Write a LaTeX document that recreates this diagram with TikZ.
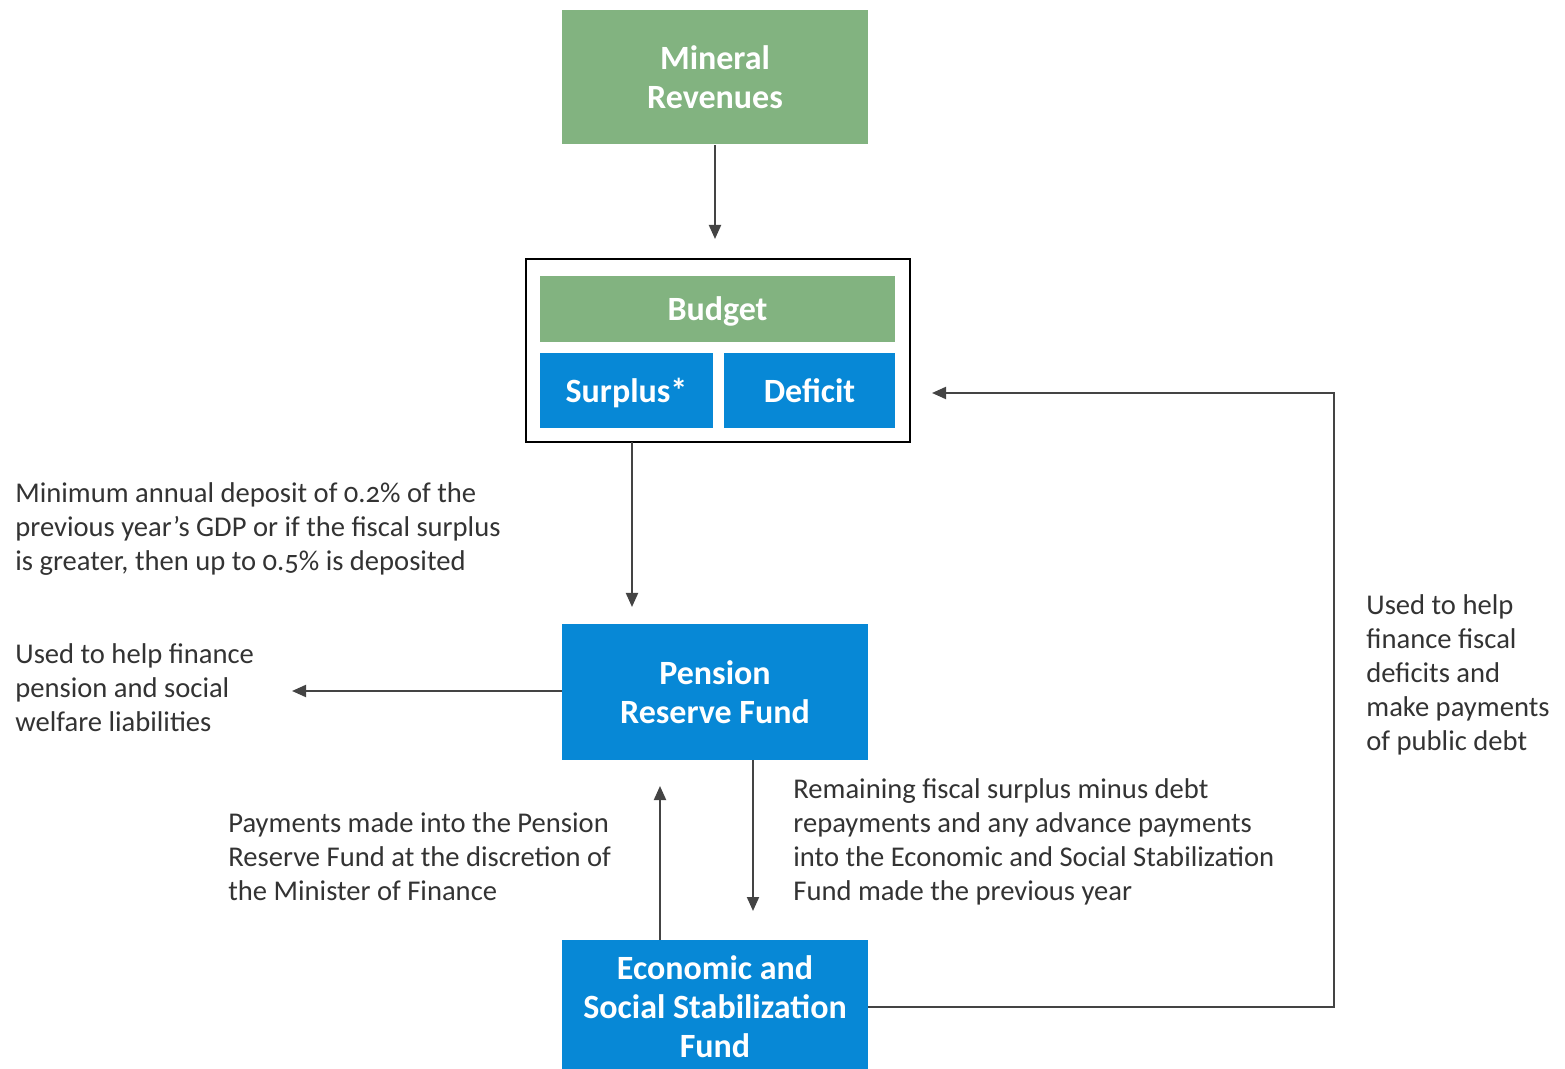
\documentclass[tikz,border=0pt]{standalone}
\usepackage{fontspec}
\setmainfont{Carlito}[Numbers=OldStyle]
\usetikzlibrary{arrows.meta}
\definecolor{grn}{HTML}{82B380}
\definecolor{blu}{HTML}{0788D6}
\definecolor{txt}{HTML}{333333}
\definecolor{arr}{HTML}{444444}
\begin{document}
\begin{tikzpicture}[x=0.5pt,y=-0.5pt,
  boxtext/.style={text=white, font=\bfseries\fontsize{17}{19.5}\selectfont, align=center, inner sep=0pt, draw=none},
  gbox/.style={boxtext, fill=grn},
  bbox/.style={boxtext, fill=blu},
  note/.style={text=txt, font=\fontsize{14.3}{17}\selectfont, align=left, anchor=north west, inner sep=0pt},
  flow/.style={draw=arr, line width=1pt, -{Triangle[length=7pt,width=6pt]}}]
\useasboundingbox (0,0) rectangle (1565,1069);
% boxes
\node[gbox, minimum width=153pt, minimum height=67pt] (mr) at (715,77.5) {Mineral\\Revenues};
\node[draw=black, line width=1.2pt, fill=white, minimum width=192pt, minimum height=91.5pt, inner sep=0pt] (bud) at (718,350.5) {};
\node[gbox, minimum width=177.5pt, minimum height=33pt, text depth=0pt] (budget) at (717.5,309) {Budget};
\node[bbox, minimum width=86.5pt, minimum height=37.5pt, text depth=0pt] (surplus) at (626.5,390.5) {Surplus*};
\node[bbox, minimum width=85.5pt, minimum height=37.5pt, text depth=0pt] (deficit) at (809.5,390.5) {Deficit};
\node[bbox, minimum width=153pt, minimum height=68pt] (prf) at (715,692) {Pension\\Reserve Fund};
\node[bbox, minimum width=153pt, minimum height=67pt] (essf) at (715,1007) {Economic and\\Social Stabilization\\Fund};
% coordinates
\coordinate (mrend) at (715,239);
\coordinate (b1) at (632,442);
\coordinate (b1end) at (632,607);
\coordinate (leftend) at (292,691);
\coordinate (p1) at (753,760);
\coordinate (p1end) at (753,911);
\coordinate (e1) at (660,940);
\coordinate (e1end) at (660,786);
\coordinate (c1) at (1334,1007);
\coordinate (c2) at (1334,393);
\coordinate (defend) at (932,393);
% connectors
\draw[flow] (mr.south) -- (mrend);
\draw[flow] (b1) -- (b1end);
\draw[flow] (prf.west |- leftend) -- (leftend);
\draw[flow] (p1) -- (p1end);
\draw[flow] (e1) -- (e1end);
\draw[flow] (essf.east) -- (c1) -- (c2) -- (defend);
% notes
\node[note] (n1) at (15,482) {Minimum annual deposit of 0.2\% of the\\previous year’s GDP or if the fiscal surplus\\is greater, then up to 0.5\% is deposited};
\node[note] (n2) at (15,643) {Used to help finance\\pension and social\\welfare liabilities};
\node[note] (n3) at (228,812) {Payments made into the Pension\\Reserve Fund at the discretion of\\the Minister of Finance};
\node[note] (n4) at (793,778) {Remaining fiscal surplus minus debt\\repayments and any advance payments\\into the Economic and Social Stabilization\\Fund made the previous year};
\node[note] (n5) at (1366,594) {Used to help\\finance fiscal\\deficits and\\make payments\\of public debt};
\end{tikzpicture}
\end{document}
